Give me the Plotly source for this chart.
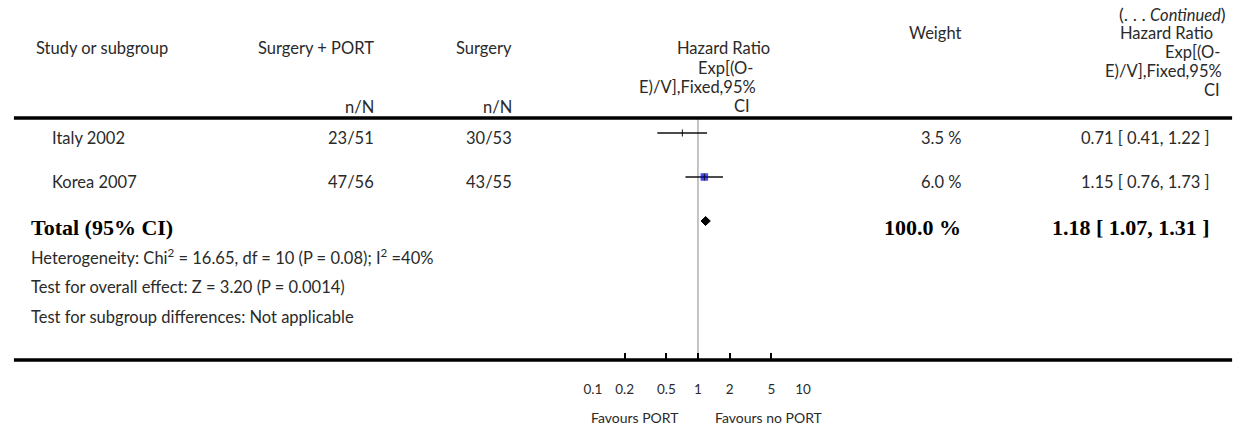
import plotly.graph_objects as go

# ---------------- data ----------------
studies = ["Italy 2002", "Korea 2007"]
port_events = ["23/51", "47/56"]
surgery_events = ["30/53", "43/55"]
hr = [0.71, 1.15]
hr_low = [0.41, 0.76]
hr_high = [1.22, 1.73]
weights = [3.5, 6.0]
total_hr, total_low, total_high, total_weight = 1.18, 1.07, 1.31, 100.0
tick_vals = [0.1, 0.2, 0.5, 1, 2, 5, 10]
tick_text = ["0.1", "0.2", "0.5", "1", "2", "5", "10"]
heterogeneity = "Heterogeneity: Chi<sup>2</sup> = 16.65, df = 10 (P = 0.08); I<sup>2</sup> =40%"
overall = "Test for overall effect: Z = 3.20 (P = 0.0014)"
subgroup = "Test for subgroup differences: Not applicable"

# ---------------- layout constants ----------------
W, H = 1247, 428
REG = "Lato"
SERIF = "Liberation Serif"
TXT = "#2a2a2a"
BLUE = "#0000E6"
FS = 16.5
BFS = 22
row_y = [133, 177]
total_y = 221
header_line_y = 118
axis_y = 360
square_px = [1.5, 7.5]


def px(x):
    return x / W


def py(y):
    return 1 - y / H


fig = go.Figure()

# vertical line of no effect
fig.add_trace(go.Scatter(x=[1, 1], y=[header_line_y, axis_y], mode="lines",
                         line=dict(color="#8a8a8a", width=1), hoverinfo="skip", showlegend=False))

# study CIs
for i in range(len(studies)):
    fig.add_trace(go.Scatter(x=[hr_low[i], hr_high[i]], y=[row_y[i], row_y[i]], mode="lines",
                             line=dict(color="#111111", width=1.4), hoverinfo="skip", showlegend=False))
fig.add_trace(go.Scatter(x=hr, y=row_y, mode="markers",
                         marker=dict(symbol="square", size=square_px, color=BLUE, line=dict(width=0)),
                         hoverinfo="skip", showlegend=False))
fig.add_trace(go.Scatter(x=hr, y=row_y, mode="markers",
                         marker=dict(symbol="line-ns", size=5, line=dict(color="#111111", width=1)),
                         hoverinfo="skip", showlegend=False))

# total diamond
dh = 4.5
fig.add_trace(go.Scatter(x=[total_low, total_hr, total_high, total_hr, total_low],
                         y=[total_y, total_y - dh, total_y, total_y + dh, total_y],
                         mode="lines", fill="toself", fillcolor="black",
                         line=dict(color="black", width=1), hoverinfo="skip", showlegend=False))

ann = []


def text(x, y, s, anchor="left", size=FS, font=REG, color=TXT):
    ann.append(dict(x=px(x), y=py(y), xref="paper", yref="paper", text=s, showarrow=False,
                    xanchor=anchor, yanchor="middle",
                    font=dict(family=font, size=size, color=color)))


# header
text(1236, 14, "<span style='font-size:18px'>(. . .</span> <i>Continued</i><span style='font-size:18px'>)</span>", "right", FS)
text(25, 48, "Study or subgroup")
text(372, 48, "Surgery + PORT", "right")
text(512, 48, "Surgery", "right")
text(372, 107, "n/N", "right")
text(512, 107, "n/N", "right")
text(774, 48, "Hazard Ratio", "right")
text(756, 68, "Exp[(O-", "right")
text(759, 87, "E)/V],Fixed,95%", "right")
text(753, 106, "CI", "right")
text(967, 33, "Weight", "right")
text(1223, 33, "Hazard Ratio", "right")
text(1230, 52, "Exp[(O-", "right")
text(1232, 71, "E)/V],Fixed,95%", "right")
text(1230, 90, "CI", "right")

# rows
for i in range(len(studies)):
    ty = row_y[i] + 5
    text(42, ty, studies[i])
    text(372, ty, port_events[i], "right")
    text(512, ty, surgery_events[i], "right")
    text(967, ty, f"{weights[i]:.1f} %", "right")
    text(1220, ty, f"{hr[i]:.2f} [ {hr_low[i]:.2f}, {hr_high[i]:.2f} ]", "right")

ty = total_y + 6
text(20, ty, "<b>Total (95% CI)</b>", size=BFS, font=SERIF, color="black")
text(967, ty, f"<b>{total_weight:.1f} %</b>", "right", BFS, SERIF, "black")
text(1220, ty, f"<b>{total_hr:.2f} [ {total_low:.2f}, {total_high:.2f} ]</b>", "right", BFS, SERIF, "black")

text(20, 257, heterogeneity)
text(20, 287, overall)
text(20, 317, subgroup)

text(635, 417, "Favours PORT", "center", 14)
text(770, 417, "Favours no PORT", "center", 14)

shapes = [
    dict(type="line", xref="paper", yref="paper", x0=px(5), x1=px(1240),
         y0=py(header_line_y), y1=py(header_line_y), line=dict(color="black", width=3.5)),
    dict(type="line", xref="paper", yref="paper", x0=px(5), x1=px(1240),
         y0=py(axis_y), y1=py(axis_y), line=dict(color="black", width=3.5)),
]

fig.update_layout(
    width=W, height=H, margin=dict(l=0, r=0, t=0, b=0),
    paper_bgcolor="white", plot_bgcolor="white",
    annotations=ann, shapes=shapes, showlegend=False,
    xaxis=dict(type="log", range=[-1, 1], domain=[px(592), px(805)],
               anchor="free", position=py(axis_y),
               showgrid=False, zeroline=False, showline=False,
               ticks="inside", ticklen=7, tickwidth=2, tickcolor="black",
               tickvals=tick_vals, ticktext=tick_text,
               tickfont=dict(family=REG, size=13.5, color=TXT), ticklabelstandoff=19),
    yaxis=dict(range=[H, 0], domain=[0, 1], visible=False, showgrid=False, zeroline=False),
)

fig.write_html("out.html", config={"displayModeBar": False},
               post_script="document.body.style.margin='0';document.body.style.overflow='hidden';")
